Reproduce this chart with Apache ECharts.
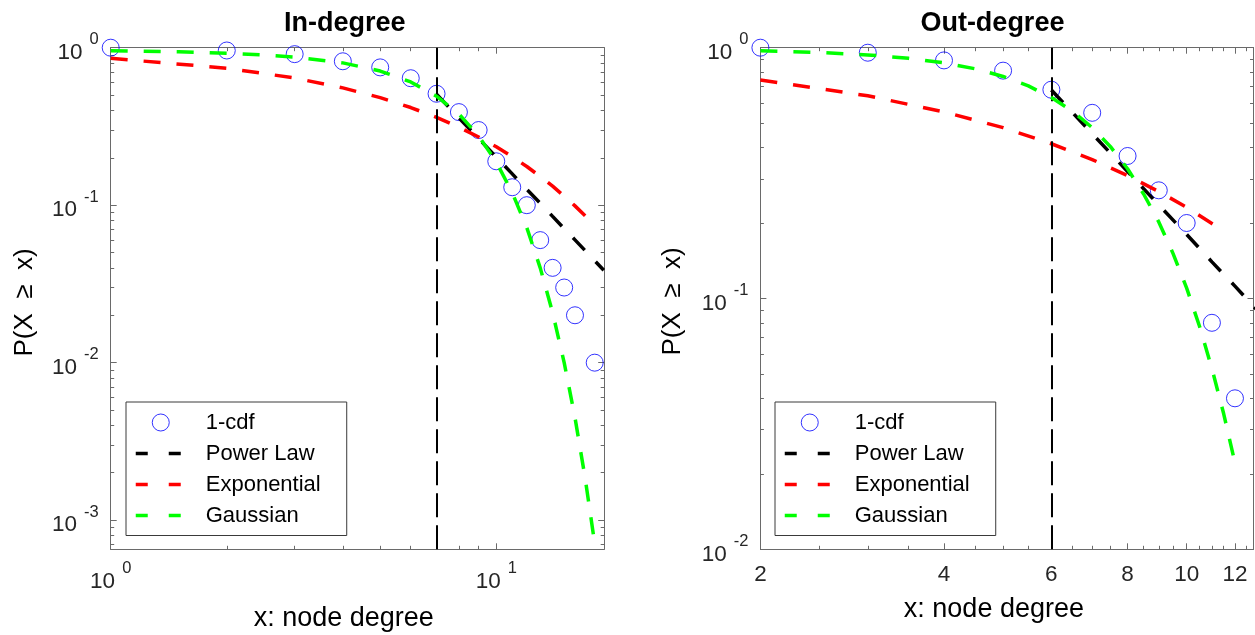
<!DOCTYPE html>
<html>
<head>
<meta charset="utf-8">
<title>In-degree / Out-degree</title>
<script src="https://cdn.jsdelivr.net/npm/echarts@6/dist/echarts.min.js"></script>
<style>
  html, body { margin: 0; padding: 0; background: #fff; }
  #chart { width: 1255px; height: 635px; }
</style>
</head>
<body>
<div id="chart"></div>
<script>
// ---- In-degree data ----
const inX = [1, 2, 3, 4, 5, 6, 7, 8, 9, 10, 11, 12, 13, 14, 15, 16, 18]
const inCdf = [1.0, 0.96, 0.91, 0.82, 0.75, 0.64, 0.51, 0.39, 0.30, 0.19, 0.13, 0.10, 0.06, 0.04, 0.03, 0.02, 0.01]
const inPowX = [7, 8, 9, 10, 11, 12, 13, 14, 15, 16, 17, 18, 19]
const inPow = [0.506, 0.359, 0.265, 0.202, 0.158, 0.126, 0.103, 0.0849, 0.0710, 0.0602, 0.0515, 0.0444, 0.0386]
const inExpX = [1, 2, 3, 4, 5, 6, 7, 8, 9, 10, 11, 12, 13, 14, 15, 16, 17, 18]
const inExp = [0.856, 0.741, 0.642, 0.556, 0.482, 0.417, 0.361, 0.313, 0.271, 0.235, 0.203, 0.176, 0.152, 0.132, 0.114, 0.099, 0.0858, 0.0743]
const inGauX = [1, 1.5, 2, 2.5, 3, 4, 5, 6, 7, 8, 9, 10, 11, 12, 13, 14, 15, 16, 17, 18]
const inGau = [0.956, 0.941, 0.922, 0.899, 0.871, 0.801, 0.711, 0.606, 0.492, 0.379, 0.275, 0.188, 0.120, 0.072, 0.040, 0.0208, 0.0100, 0.00448, 0.00185, 0.00071]
const inXmin = 7

// ---- Out-degree data ----
const outX = [2, 3, 4, 5, 6, 7, 8, 9, 10, 11, 12]
const outCdf = [1.0, 0.955, 0.89, 0.81, 0.68, 0.55, 0.37, 0.27, 0.20, 0.08, 0.04]
const outPowX = [6, 7, 8, 9, 10, 11, 12, 13]
const outPow = [0.678, 0.454, 0.321, 0.236, 0.180, 0.140, 0.112, 0.0908]
const outExpX = [2, 3, 4, 5, 6, 7, 8, 9, 10, 11, 11.4]
const outExp = [0.744, 0.643, 0.555, 0.480, 0.414, 0.358, 0.309, 0.267, 0.231, 0.199, 0.188]
const outGauX = [2, 2.5, 3, 3.5, 4, 4.5, 5, 5.5, 6, 6.5, 7, 7.5, 8, 8.5, 9, 9.5, 10, 10.5, 11, 11.5, 12]
const outGau = [0.972, 0.957, 0.936, 0.907, 0.870, 0.824, 0.768, 0.704, 0.633, 0.558, 0.480, 0.403, 0.329, 0.261, 0.202, 0.151, 0.110, 0.0773, 0.0526, 0.0347, 0.0221]
const outXmin = 6

// ---- tick labels ----
const inXTicks = [1, 10]
const inYTicks = [0.001, 0.01, 0.1, 1]
const outXTicks = [2, 4, 6, 8, 10, 12]
const outYTicks = [0.01, 0.1, 1]

const legendNames = ['1-cdf', 'Power Law', 'Exponential', 'Gaussian']

const FONT = '"Liberation Sans", Arial, Helvetica, sans-serif'
const AXIS_GRAY = '#6a6a6a'
const TEXT_GRAY = '#262626'
const CLEAR = 'rgba(0,0,0,0)'

// minor ticks 2..9 of every decade inside [lo, hi]
function decadeMinors(lo, hi) {
  const out = []
  for (let e = -4; e <= 1; e++) {
    for (let k = 2; k <= 9; k++) {
      const v = k * Math.pow(10, e)
      if (v >= lo && v <= hi) out.push(+v.toPrecision(3))
    }
  }
  return out
}
function halfMinors(lo, hi, majors) {
  const out = []
  for (let v = lo; v <= hi; v += 0.5) {
    if (majors.indexOf(v) < 0) out.push(v)
  }
  return out
}

function powLabel(v) {
  const e = Math.round(Math.log10(v))
  if (Math.abs(Math.log10(v) - e) > 1e-6) return ''
  return '{b|10}{s|' + e + '}'
}

const supRich = {
  b: { fontSize: 22.5, fontFamily: FONT, color: TEXT_GRAY, padding: [10, 0, 0, 0] },
  s: { fontSize: 16.5, fontFamily: FONT, color: TEXT_GRAY, verticalAlign: 'top', padding: [0, 0, 0, 7] }
}

function axisSet(dim, gridIndex, min, max, majors, minors, formatter, margin) {
  const sides = dim === 'x' ? ['bottom', 'top'] : ['left', 'right']
  const out = []
  sides.forEach((pos, i) => {
    out.push({
      type: 'log', logBase: 10, gridIndex, position: pos, min, max,
      axisLine: { show: true, onZero: false, lineStyle: { color: AXIS_GRAY, width: 1 } },
      axisTick: { show: true, inside: true, length: 6, customValues: majors, lineStyle: { color: AXIS_GRAY } },
      axisLabel: i === 0 ? {
        show: true, customValues: majors, formatter, margin,
        fontSize: 22.5, fontFamily: FONT, color: TEXT_GRAY, rich: supRich
      } : { show: false },
      splitLine: { show: false },
      minorTick: { show: false }
    })
    out.push({
      type: 'log', logBase: 10, gridIndex, position: pos, min, max,
      axisLine: { show: false, onZero: false },
      axisTick: { show: true, inside: true, length: 3.5, customValues: minors, lineStyle: { color: AXIS_GRAY } },
      axisLabel: { show: false },
      splitLine: { show: false },
      minorTick: { show: false }
    })
  })
  return out
}

function pairs(xs, ys) {
  return xs.map((x, i) => [x, ys[i]])
}

function panelSeries(ax, cdfX, cdfY, powX, powY, expX, expY, gauX, gauY, xmin) {
  const lineOpts = (name, color, xs, ys, z) => ({
    name, type: 'line', xAxisIndex: ax, yAxisIndex: ax, data: pairs(xs, ys),
    symbol: 'none', z,
    lineStyle: { color, width: 3.5, type: [17, 16] },
    itemStyle: { color }
  })
  const pow = lineOpts('Power Law', '#000000', powX, powY, 3)
  pow.markLine = {
    silent: true, symbol: ['none', 'none'], label: { show: false },
    lineStyle: { color: '#000', width: 2, type: [24, 8] },
    data: [{ xAxis: xmin }]
  }
  return [
    {
      name: '1-cdf', type: 'scatter', xAxisIndex: ax, yAxisIndex: ax, data: pairs(cdfX, cdfY),
      symbol: 'circle', symbolSize: 17, z: 2,
      itemStyle: { color: CLEAR, borderColor: '#0000ff', borderWidth: 1 }
    },
    pow,
    lineOpts('Exponential', '#ff0000', expX, expY, 4),
    lineOpts('Gaussian', '#00ff00', gauX, gauY, 5)
  ]
}

function legendFor(left) {
  const lineItem = name => ({
    name,
    lineStyle: { type: [12, 21], width: 3.5 },
    itemStyle: { color: CLEAR, borderColor: CLEAR, borderWidth: 0 }
  })
  return {
    left, top: 402, orient: 'vertical', selectedMode: false,
    backgroundColor: '#fff', borderColor: '#3a3a3a', borderWidth: 1,
    padding: [9.5, 26, 9, 8], itemWidth: 50, itemHeight: 17, itemGap: 9,
    textStyle: { fontSize: 22, fontFamily: FONT, color: '#000', padding: [0, 0, 0, 15] },
    data: [
      { name: legendNames[0], icon: 'circle', itemStyle: { color: CLEAR, borderColor: '#0000ff', borderWidth: 1 } },
      lineItem(legendNames[1]),
      lineItem(legendNames[2]),
      lineItem(legendNames[3])
    ]
  }
}

function text(x, y, str, font, rot) {
  return {
    type: 'text', x, y, rotation: rot || 0, silent: true,
    style: { text: str, font, fill: '#000', align: 'center', verticalAlign: 'middle', textAlign: 'center', textVerticalAlign: 'middle' }
  }
}

const inYMin = 0.000653
const inXMax = 19.05
const outXMax = 12.87

const xAxes = [].concat(
  axisSet('x', 0, 1, inXMax, inXTicks, decadeMinors(1, inXMax), powLabel, 11),
  axisSet('x', 1, 2, outXMax, outXTicks, halfMinors(2, outXMax, outXTicks), v => String(v), 14)
)
const yAxes = [].concat(
  axisSet('y', 0, inYMin, 1, inYTicks, decadeMinors(inYMin, 1), powLabel, 12),
  axisSet('y', 1, 0.01, 1, outYTicks, decadeMinors(0.01, 1), powLabel, 12)
)

const yLabel = 'P(X  \u2265  x)'

const chart = echarts.init(document.getElementById('chart'))
chart.setOption({
  animation: false,
  backgroundColor: '#ffffff',
  grid: [
    { left: 110.7, top: 47.7, width: 493.5, height: 501.6, outerBoundsMode: 'none' },
    { left: 760.4, top: 47.7, width: 493.1, height: 501.6, outerBoundsMode: 'none' }
  ],
  xAxis: xAxes,
  yAxis: yAxes,
  legend: [legendFor(126), legendFor(775)],
  graphic: [
    text(344.7, 23.5, 'In-degree', 'bold 27px ' + FONT),
    text(992.4, 23.5, 'Out-degree', 'bold 27px ' + FONT),
    text(343.8, 619, 'x: node degree', '27px ' + FONT),
    text(993.9, 610, 'x: node degree', '27px ' + FONT),
    text(25, 302.5, yLabel, '26px ' + FONT, Math.PI / 2),
    text(672.4, 301.5, yLabel, '26px ' + FONT, Math.PI / 2)
  ],
  series: [].concat(
    panelSeries(0, inX, inCdf, inPowX, inPow, inExpX, inExp, inGauX, inGau, inXmin),
    panelSeries(4, outX, outCdf, outPowX, outPow, outExpX, outExp, outGauX, outGau, outXmin)
  )
})
</script>
</body>
</html>
